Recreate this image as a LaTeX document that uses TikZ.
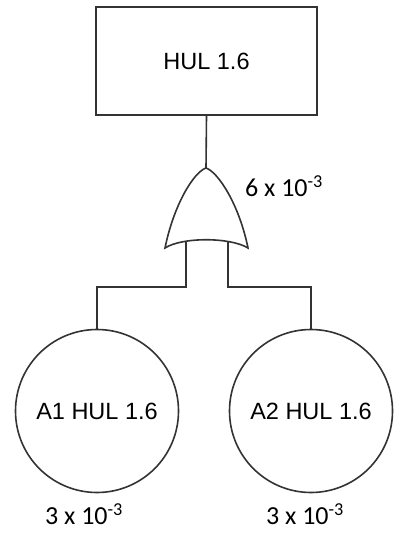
\documentclass[tikz,border=0pt]{standalone}
\usepackage{fontspec}
\setmainfont{Liberation Sans}
\newfontfamily\numfont{Carlito}
\usetikzlibrary{positioning}

\tikzset{
  wire/.style={draw=black!80, line width=1.6pt},
  event/.style={wire, rectangle, minimum width=221pt, minimum height=108pt, inner sep=0pt},
  basic/.style={wire, circle, minimum size=163pt, inner sep=0pt},
  prob/.style={font=\numfont\fontsize{26}{30}\selectfont, inner sep=0pt}
}

\begin{document}
\begin{tikzpicture}[x=1pt, y=-1pt, font=\fontsize{23.5}{28}\selectfont]
\useasboundingbox (0,0) rectangle (393,537);
% top event
\node[event] (top) at (206.5,61) {HUL 1.6};
% or gate
\draw[wire, fill=white] (165,248) .. controls (174,204) and (194,172) .. (206,168)
  .. controls (218,172) and (239,204) .. (248,248)
  .. controls (230,237) and (182,237) .. (165,248) -- cycle;
\coordinate (gout) at (206,168);
\coordinate (gin1) at (186,242);
\coordinate (gin2) at (228,242);
\coordinate (j1) at (186,287);
\coordinate (j2) at (228,287);
\node[prob] (pg) at (284,186) {6 x 10\textsuperscript{-3}};
% basic events
\node[basic] (a1) at (97,411) {A1 HUL 1.6};
\node[basic] (a2) at (311,411) {A2 HUL 1.6};
\node[prob] (p1) at (84,514) {3 x 10\textsuperscript{-3}};
\node[prob] (p2) at (305,514) {3 x 10\textsuperscript{-3}};
% connections
\draw[wire] (top.south) -- (gout);
\draw[wire] (gin1) -- (j1) -| (a1.north);
\draw[wire] (gin2) -- (j2) -| (a2.north);
\end{tikzpicture}
\end{document}
